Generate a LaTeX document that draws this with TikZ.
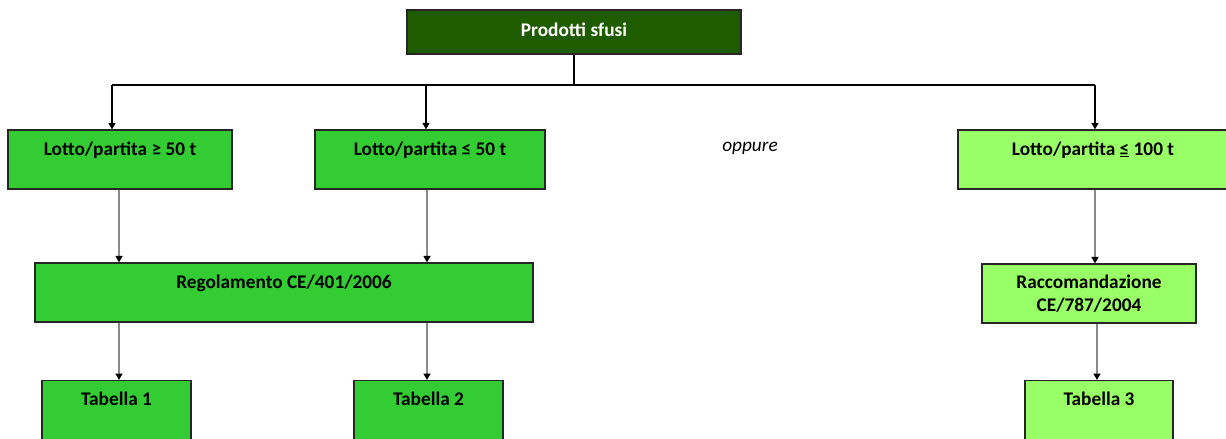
\documentclass[tikz,border=0pt]{standalone}
\usepackage{fontspec}
\setmainfont{Carlito}
\usetikzlibrary{arrows.meta}
\definecolor{darkg}{HTML}{1F5C00}
\definecolor{midg}{HTML}{33CC33}
\definecolor{lightg}{HTML}{99FF66}
\definecolor{linegray}{HTML}{8A8A8A}
\begin{document}
\begin{tikzpicture}[x=1pt,y=-1pt,
  box/.style={draw=black!85, line width=1.2pt, inner sep=0pt, font=\bfseries\fontsize{19.3}{23}\selectfont},
  topbox/.style={box, fill=darkg, text=white, text height=13pt, text depth=5pt},
  rowbox/.style={box, fill=midg, text height=25pt, text depth=34pt},
  tabbox/.style={box, fill=midg, text height=25pt, text depth=50pt},
  lbox/.style={box, fill=lightg},
  arr/.style={line width=1.3pt, -{Triangle[width=7pt,length=6.5pt]}},
  garr/.style={arr, line width=1.6pt, draw=linegray, -{Triangle[width=7pt,length=6.5pt,color=black]}}
]
\useasboundingbox (0,0) rectangle (1226,439);
% top
\node[topbox, minimum width=334pt, minimum height=44pt] (top) at (574,32) {Prodotti sfusi};
% row 1
\node[rowbox, minimum width=224pt] (a) at (120,159.5) {Lotto/partita ≥ 50 t};
\node[rowbox, minimum width=230pt] (b) at (430,159.5) {Lotto/partita ≤ 50 t};
\node[rowbox, fill=lightg, minimum width=270pt] (c) at (1093,159.5) {Lotto/partita \underline{≤} 100 t};
\node[font=\itshape\fontsize{19.3}{23}\selectfont, inner sep=0pt] (opp) at (750,148) {oppure};
% row 2
\node[rowbox, minimum width=498pt] (reg) at (284,292.5) {Regolamento CE/401/2006};
\node[lbox, minimum width=214pt, minimum height=59pt, align=center] (rac) at (1089,293.5) {Raccomandazione\\[0pt]CE/787/2004};
% row 3
\node[tabbox, minimum width=149pt, anchor=north] (t1) at (116.5,380) {Tabella 1};
\node[tabbox, minimum width=149pt, anchor=north] (t2) at (428.5,380) {Tabella 2};
\node[tabbox, fill=lightg, minimum width=148pt, anchor=north] (t3) at (1099,380) {Tabella 3};
% connectors
\coordinate (j) at (top.south |- 0,85);
\coordinate (jl) at (112,85);
\coordinate (jb) at (426,85);
\coordinate (jr) at (1095,85);
\draw[line width=1.3pt] (top.south) -- (j);
\draw[line width=1.3pt] (jl) -- (jr);
\draw[arr] (jl) -- (jl |- a.north);
\draw[arr] (jb) -- (jb |- b.north);
\draw[arr] (jr) -- (jr |- c.north);
\draw[garr] (a.south -| 119,0) -- (reg.north -| 119,0);
\draw[garr] (b.south -| 427,0) -- (reg.north -| 427,0);
\draw[garr] (c.south -| 1095,0) -- (rac.north -| 1095,0);
\draw[garr] (reg.south -| 119,0) -- (t1.north -| 119,0);
\draw[garr] (reg.south -| 427,0) -- (t2.north -| 427,0);
\draw[garr] (rac.south -| 1097,0) -- (t3.north -| 1097,0);
\end{tikzpicture}
\end{document}
